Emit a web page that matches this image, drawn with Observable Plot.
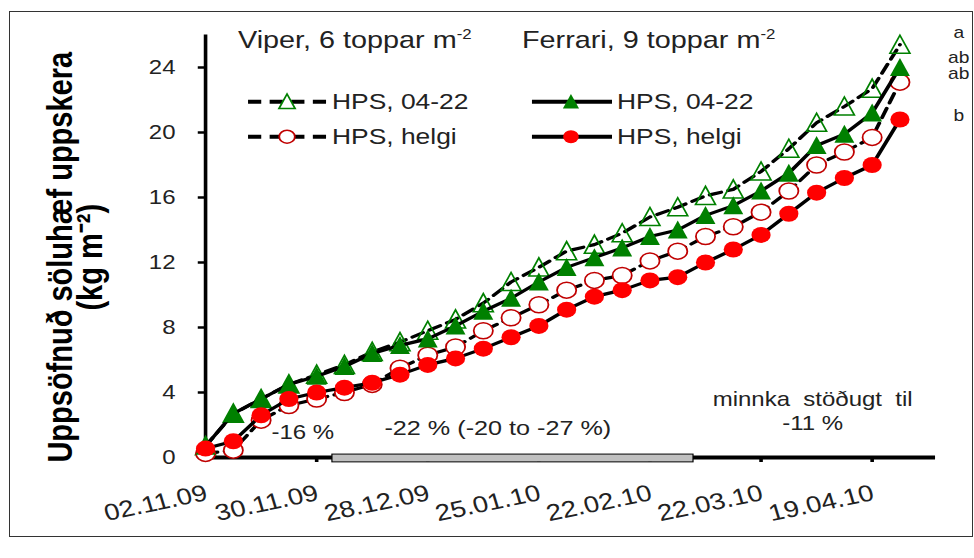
<!DOCTYPE html>
<html><head><meta charset="utf-8">
<script src="https://cdn.jsdelivr.net/npm/d3@7"></script>
<script src="https://cdn.jsdelivr.net/npm/@observablehq/plot@0.6"></script>
<style>
html,body{margin:0;padding:0;background:#fff;}
#page{position:relative;width:974px;height:558px;overflow:hidden;background:#fff;}
#frame{position:absolute;left:9px;top:11px;width:964px;height:526px;border:1px solid #333;box-sizing:border-box;}
#stretch{position:absolute;left:0;top:0;width:812px;height:558px;transform:scaleX(1.2);transform-origin:0 0;}
#stretch svg{position:absolute;left:0;top:0;overflow:visible;}
</style></head><body>
<div id="page"><div id="frame"></div><div id="stretch"></div></div>
<script>
// ---- data ----
const dates = ["2009-11-02","2009-11-09","2009-11-16","2009-11-23","2009-11-30","2009-12-07","2009-12-14","2009-12-21","2009-12-28",
  "2010-01-04","2010-01-11","2010-01-18","2010-01-25","2010-02-01","2010-02-08","2010-02-15","2010-02-22",
  "2010-03-01","2010-03-08","2010-03-15","2010-03-22","2010-03-29","2010-04-05","2010-04-12","2010-04-19","2010-04-26"];
const viper0422    = [0.7,2.7,3.6,4.5,5.1,5.7,6.5,7.1,7.8,8.5,9.5,10.8,11.7,12.7,13.1,13.8,14.8,15.4,16.1,16.5,17.6,19.0,20.6,21.6,22.7,25.4];
const viperHelgi   = [0.25,0.45,2.3,3.2,3.6,4.0,4.5,5.5,6.3,6.8,7.8,8.6,9.4,10.3,10.9,11.2,12.1,12.7,13.6,14.2,15.1,16.4,18.0,18.8,19.7,23.1];
const ferrari0422  = [0.7,2.7,3.6,4.5,5.0,5.6,6.4,6.9,7.3,8.1,9.0,9.8,10.8,11.7,12.3,12.9,13.6,14.0,14.9,15.5,16.4,17.5,19.2,19.9,21.2,24.0];
const ferrariHelgi = [0.55,1.0,2.6,3.6,4.0,4.3,4.6,5.1,5.7,6.1,6.7,7.4,8.1,9.1,9.9,10.3,10.9,11.1,12.0,12.8,13.7,15.0,16.3,17.2,18.0,20.8];
const seriesNames = ["HPS, 04-22","HPS, helgi","HPS, 04-22","HPS, helgi"];
const groupTitles = ["Viper, 6 toppar m","Ferrari, 9 toppar m"];
const titleSup = "-2";
const xTickLabels = ["02.11.09","30.11.09","28.12.09","25.01.10","22.02.10","22.03.10","19.04.10"];
const yTicks = [0,4,8,12,16,20,24];
const yLabel = "Uppsöfnuð söluhæf uppskera\n(kg m\u207B\u00B2)";
const letters = ["a","ab","ab","b"];           // Viper 04-22, Ferrari 04-22, Viper helgi, Ferrari helgi
const periodStart = "2009-12-04", periodEnd = "2010-03-05";
const noteA = "-16 %";
const noteB = "-22 % (-20 to -27 %)";
const noteC = "minnka\u00A0 stöðugt\u00A0 til\n-11 %";

// ---- setup ----
const FONT = "'Liberation Sans', Arial, Helvetica, sans-serif";
const parse = d3.utcParse("%Y-%m-%d");
const tickParse = d3.utcParse("%d.%m.%y");
const D = dates.map(parse);
const xTicks = xTickLabels.map(tickParse);
const tri = {draw(ctx, size){const r=Math.sqrt(size/Math.PI), k=r/8;
  ctx.moveTo(0,-9.5*k); ctx.lineTo(8.3*k,8.5*k); ctx.lineTo(-8.3*k,8.5*k); ctx.closePath();}};

const series = [
  {values: viper0422,   name: seriesNames[0], dashed: true,  symbol: tri,             fill: "none",    stroke: "#008000", col: 0, row: 0},
  {values: viperHelgi,  name: seriesNames[1], dashed: true,  symbol: d3.symbolCircle, fill: "#ffffff", stroke: "#c00000", col: 0, row: 1},
  {values: ferrari0422, name: seriesNames[2], dashed: false, symbol: tri,             fill: "#008000", stroke: "none",    col: 1, row: 0},
  {values: ferrariHelgi,name: seriesNames[3], dashed: false, symbol: d3.symbolCircle, fill: "#ff0000", stroke: "none",    col: 1, row: 1}
];
const letterSeries = [viper0422, ferrari0422, viperHelgi, ferrariHelgi];
const letterDy = [-12, -10, -8, -4];

const marks = [
  Plot.ruleY([0], {stroke: "#000", strokeWidth: 4}),
  Plot.ruleX([D[0]], {stroke: "#000", strokeWidth: 3}),
  Plot.axisY({ticks: yTicks, tickSize: 6, tickPadding: 19, stroke: "#000", strokeWidth: 2.5, fill: "#222", fontSize: 20, label: null}),
  Plot.axisX({ticks: xTicks, tickSize: 5, stroke: "#000", strokeWidth: 3, tickFormat: () => "", label: null}),
  Plot.rect([0], {x1: () => parse(periodStart), x2: () => parse(periodEnd), y1: () => -0.3, y2: () => 0.18,
    fill: "#c0c0c0", stroke: "#000", strokeWidth: 1}),
  Plot.text(xTicks, {x: d => d, y: () => 0, text: (d, i) => xTickLabels[i], rotate: -14, textAnchor: "end",
    lineAnchor: "middle", dy: 35, dx: 1, fontSize: 23, fill: "#222"}),
  Plot.text([yLabel], {frameAnchor: "left", rotate: -90, dx: -107, dy: 11, fontSize: 29, fontWeight: "bold",
    lineHeight: 0.86, fill: "#000", textAnchor: "middle"})
];
for (const s of series) {
  marks.push(Plot.line(D, {x: d => d, y: (d, i) => s.values[i], stroke: "#000", strokeWidth: 3.2,
    strokeDasharray: s.dashed ? "10,6" : null}));
  marks.push(Plot.dot(D, {x: d => d, y: (d, i) => s.values[i], symbol: s.symbol, r: 8,
    fill: s.fill, stroke: s.stroke, strokeWidth: 1.5}));
}
marks.push(
  Plot.text([noteA], {x: () => new Date(Date.UTC(2009,10,26,12)), y: () => 1.54, fontSize: 20, fill: "#222"}),
  Plot.text([noteB], {x: () => new Date(Date.UTC(2010,0,14,16)), y: () => 1.79, fontSize: 21, fill: "#222"}),
  Plot.text([noteC], {x: () => new Date(Date.UTC(2010,3,4)), y: () => 2.9, fontSize: 20, lineHeight: 1.2, fill: "#222"})
);
letters.forEach((L, i) => {
  marks.push(Plot.text([L], {x: () => D[D.length - 1], y: () => letterSeries[i][letterSeries[i].length - 1],
    dx: 49, dy: letterDy[i], fontSize: 16, fill: "#222"}));
});

const chart = Plot.plot({
  width: 812, height: 558,
  marginLeft: 170.8, marginRight: 32.8, marginTop: 34.5, marginBottom: 101,
  style: {fontFamily: FONT, fontSize: "20px", color: "#222", background: "transparent", overflow: "visible"},
  x: {type: "utc", domain: [parse("2009-11-02"), parse("2010-05-05")]},
  y: {domain: [0, 26]},
  marks
});
document.getElementById("stretch").appendChild(chart);

// ---- legend overlay (same stretched space) ----
const leg = d3.select("#stretch").append("svg").attr("width", 812).attr("height", 558)
  .style("font-family", FONT);
const titleX = [198.3, 435];
groupTitles.forEach((t, i) => {
  const tx = leg.append("text").attr("x", titleX[i]).attr("y", 48).attr("font-size", 24).attr("fill", "#222");
  tx.append("tspan").text(t);
  tx.append("tspan").attr("font-size", 14).attr("dy", -9).text(titleSup);
});
const cols = [{x1: 206.7, x2: 271.7, mx: 239.2, tx: 276.7}, {x1: 443.3, x2: 510, mx: 475.8, tx: 514.2}];
const rowsY = [101.7, 136.7];
series.forEach(s => {
  const c = cols[s.col], y = rowsY[s.row];
  leg.append("line").attr("x1", c.x1).attr("x2", c.x2).attr("y1", y).attr("y2", y)
    .attr("stroke", "#000").attr("stroke-width", 4).attr("stroke-dasharray", s.dashed ? "11,7" : null);
  leg.append("path").attr("d", d3.symbol(s.symbol, Math.PI * 6.5 * 6.5)())
    .attr("transform", `translate(${c.mx},${y})`)
    .attr("fill", s.fill === "none" ? "#fff" : s.fill).attr("stroke", s.stroke).attr("stroke-width", 1.5);
  leg.append("text").attr("x", c.tx).attr("y", y).attr("dy", "0.35em").attr("font-size", 22)
    .attr("fill", "#222").text(s.name);
});
</script>
</body></html>
